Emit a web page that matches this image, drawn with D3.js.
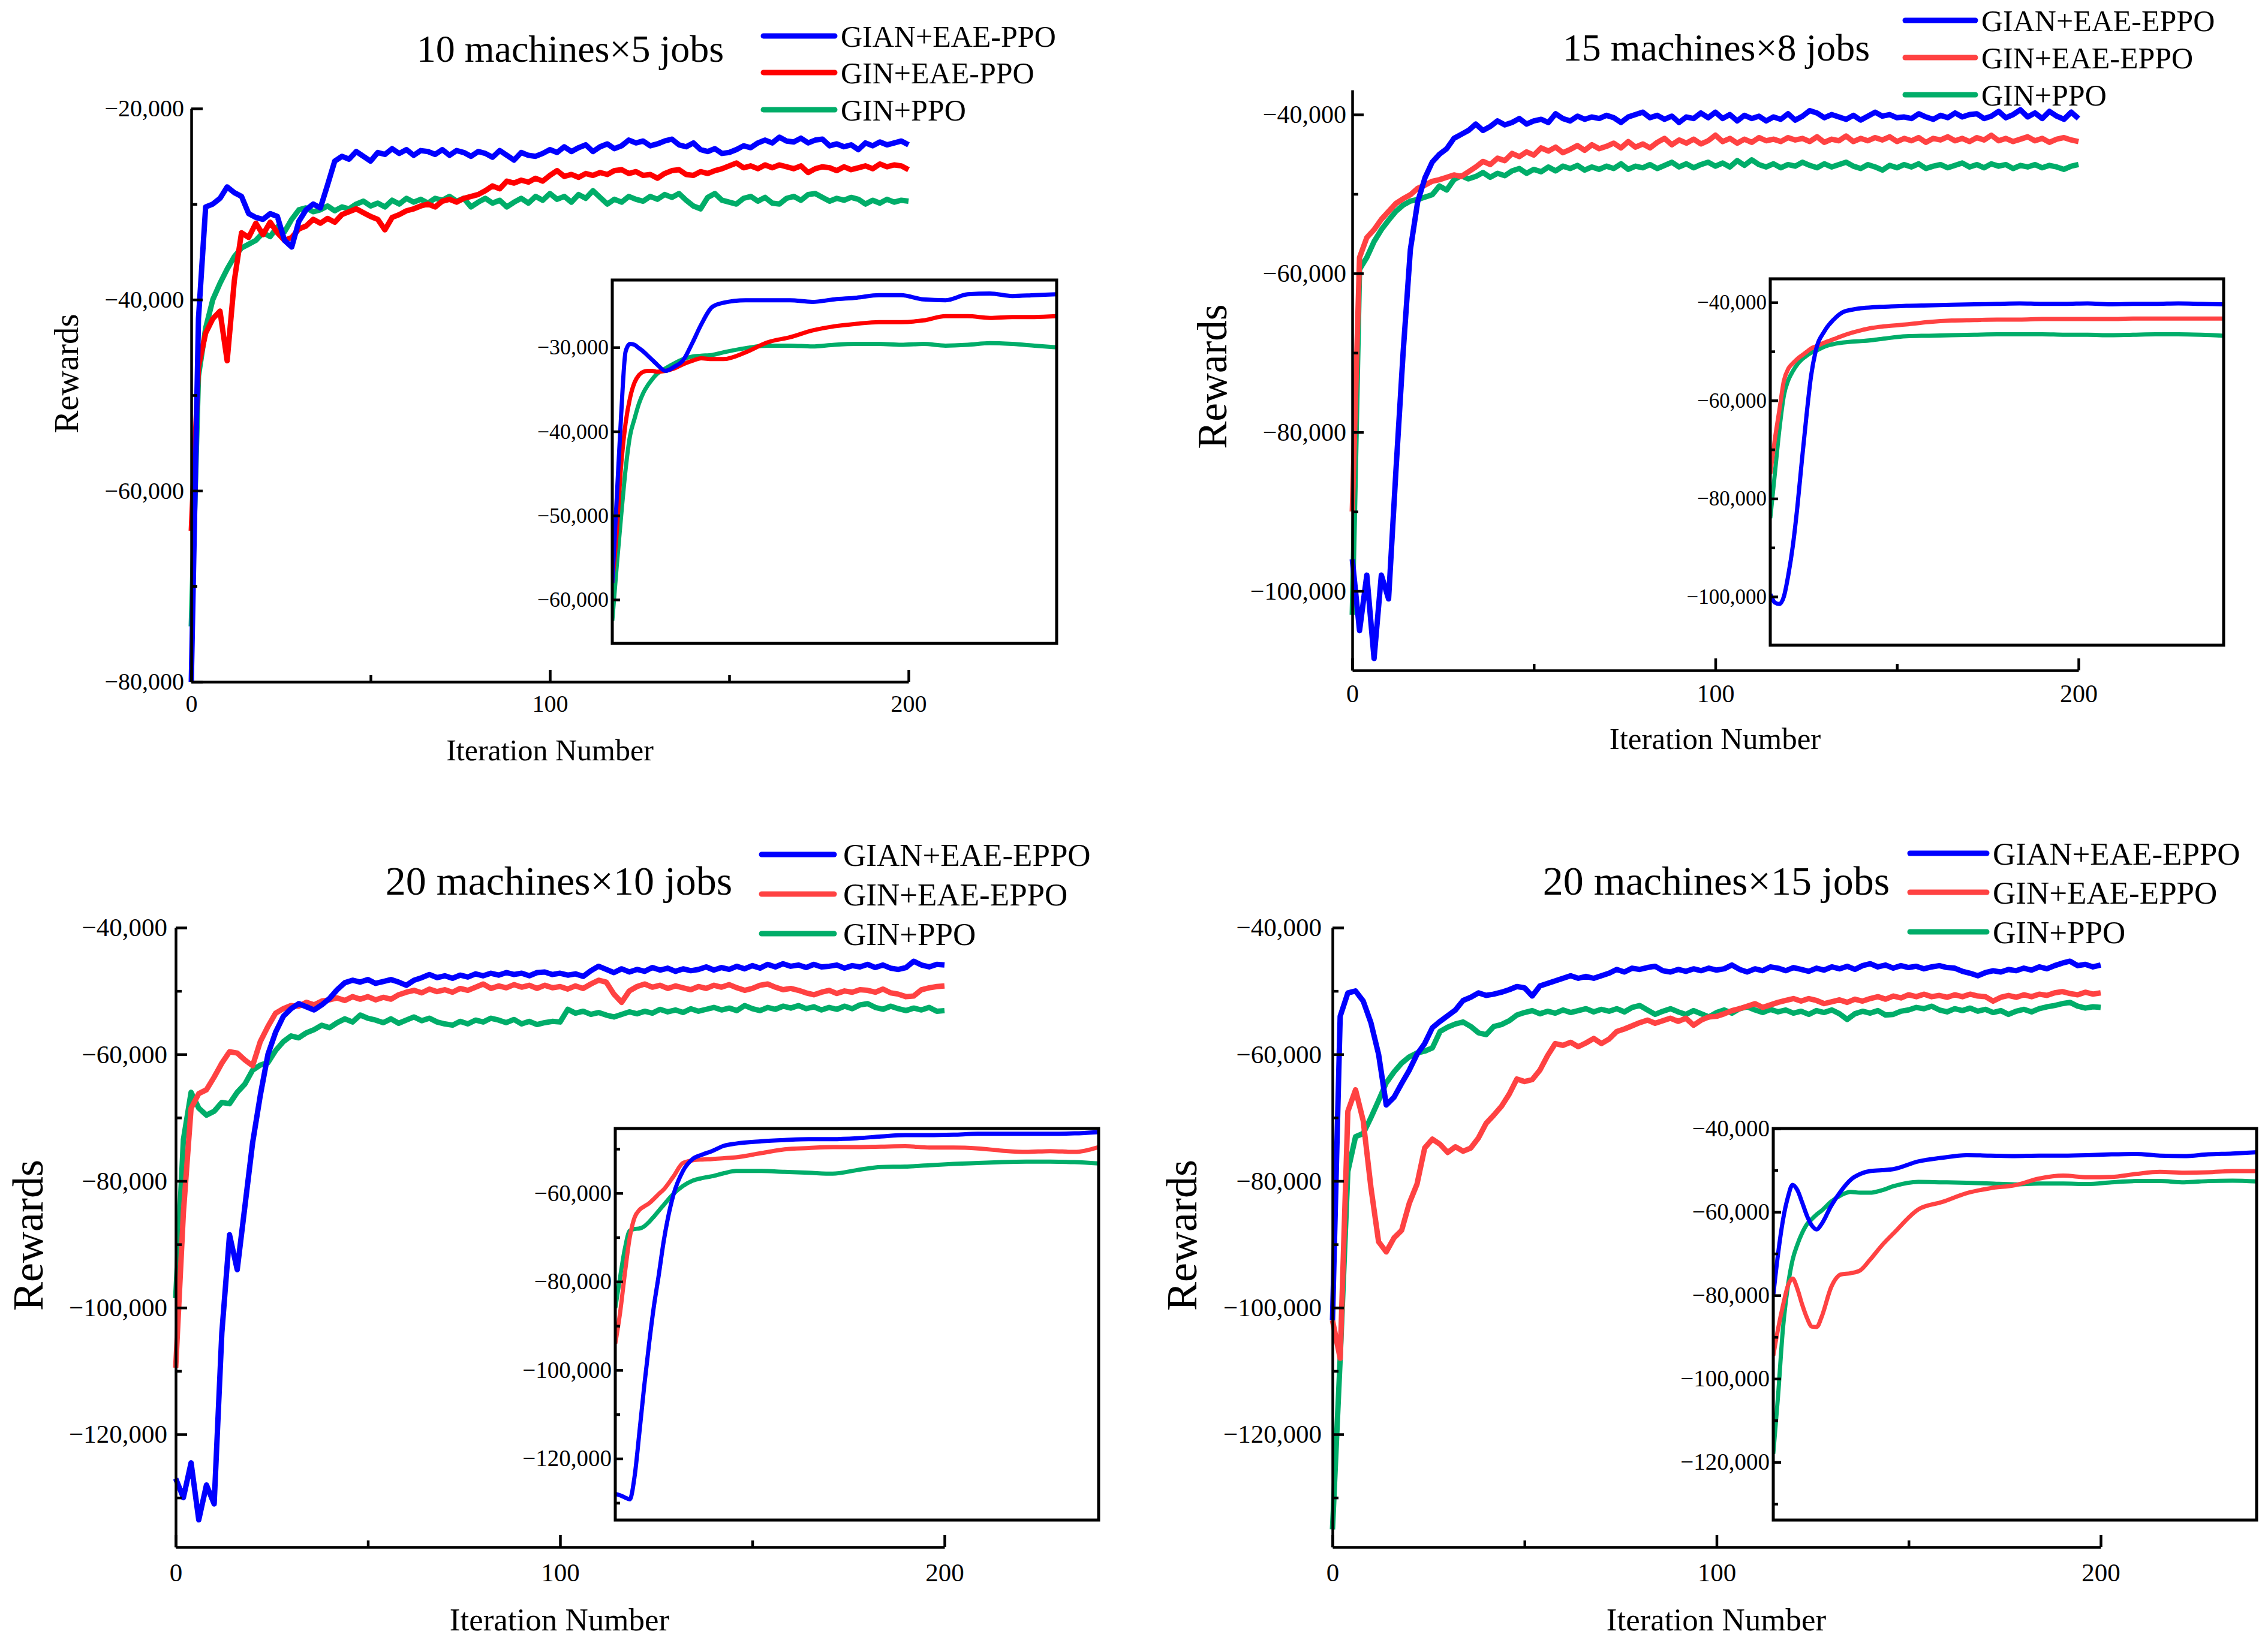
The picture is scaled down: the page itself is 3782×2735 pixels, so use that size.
<!DOCTYPE html>
<html>
<head>
<meta charset="utf-8">
<script src="https://cdn.jsdelivr.net/npm/d3@7"></script>
<style>
body { margin: 0; background: #fff; }
text { font-family: "Liberation Serif", "Times New Roman", serif; fill: #000; }
</style>
</head>
<body>
<script>
var width = 3782,
    height = 2735;

// ---- data (rewards in thousands) ----
var iters = d3.range(0, 201, 2);
var insetIters = [0, 2, 4, 6, 8, 10, 12, 14, 16, 18, 20, 24, 28, 32, 36, 40, 45, 50,
    60, 70, 80, 90, 100, 110, 120, 130, 140, 150, 160, 170, 180, 190, 200];

var titles = ["10 machines\u00d75 jobs", "15 machines\u00d78 jobs",
    "20 machines\u00d710 jobs", "20 machines\u00d715 jobs"];
var namesPPO = ["GIAN+EAE-PPO", "GIN+EAE-PPO", "GIN+PPO"];
var namesEPPO = ["GIAN+EAE-EPPO", "GIN+EAE-EPPO", "GIN+PPO"];

var xTicks = [0, 100, 200],
    xMinor = [50, 150];
var p1YTicks = [-80, -60, -40, -20], p1YMinor = [-70, -50, -30];
var p2YTicks = [-100, -80, -60, -40], p2YMinor = [-90, -70, -50];
var p34YTicks = [-120, -100, -80, -60, -40], p34YMinor = [-130, -110, -90, -70, -50];
var p1InTicks = [-60, -50, -40, -30];
var p2InTicks = [-100, -80, -60, -40], p2InMinor = [-90, -70, -50];
var p3InTicks = [-120, -100, -80, -60], p3InMinor = [-130, -110, -90, -70, -50];
var p4InTicks = [-120, -100, -80, -60, -40], p4InMinor = [-130, -110, -90, -70, -50];

var p1Blue = [-80,-42,-30.3,-30.0,-29.4,-28.2,-28.8,-29.2,-31.0,-31.4,
    -31.6,-31.0,-31.3,-33.8,-34.5,-31.8,-30.6,-30.0,-30.4,-28.0,
    -25.5,-25.0,-25.3,-24.5,-25.0,-25.5,-24.6,-24.8,-24.2,-24.7,
    -24.3,-24.9,-24.4,-24.5,-24.8,-24.3,-24.9,-24.4,-24.6,-25.0,
    -24.5,-24.7,-25.1,-24.4,-24.9,-25.4,-24.6,-24.9,-25.0,-24.7,
    -24.3,-24.6,-24.0,-24.5,-24.1,-23.8,-24.5,-24.0,-23.7,-24.2,
    -23.9,-23.3,-23.6,-23.4,-23.9,-23.7,-23.4,-23.2,-23.8,-24.0,
    -23.6,-24.3,-24.5,-24.2,-24.7,-24.6,-24.3,-23.9,-24.1,-23.6,
    -23.3,-23.6,-23.0,-23.4,-23.5,-23.1,-23.6,-23.3,-23.2,-23.9,
    -23.7,-24.0,-23.8,-24.3,-23.6,-23.9,-23.5,-23.8,-23.6,-23.4,
    -23.8];
var p1Red = [-64.2,-47.0,-43.5,-42.0,-41.2,-46.4,-38.0,-33.0,-33.5,-32.0,
    -33.2,-31.9,-33.0,-33.8,-33.5,-32.6,-32.3,-31.6,-32.0,-31.5,
    -31.9,-31.1,-30.8,-30.5,-30.9,-31.3,-31.6,-32.7,-31.4,-31.1,
    -30.7,-30.5,-30.2,-30.0,-30.3,-29.7,-29.5,-29.8,-29.4,-29.2,
    -29.0,-28.6,-28.1,-28.4,-27.6,-27.8,-27.5,-27.7,-27.3,-27.6,
    -27.0,-26.5,-27.1,-26.9,-27.2,-26.8,-27.0,-26.7,-26.9,-26.5,
    -26.4,-26.8,-26.6,-27.0,-26.9,-27.3,-26.8,-26.5,-26.4,-26.9,
    -27.0,-26.6,-26.8,-26.5,-26.3,-26.0,-25.7,-26.2,-26.0,-26.3,
    -25.9,-26.2,-25.9,-26.1,-26.3,-26.0,-26.7,-26.3,-26.1,-26.2,
    -26.5,-26.1,-26.4,-26.2,-26.0,-26.3,-25.8,-26.1,-25.9,-26.0,
    -26.4];
var p1Green = [-74.2,-48.0,-43.0,-40.0,-38.3,-36.8,-35.5,-34.6,-34.2,-33.8,
    -33.0,-33.4,-32.4,-32.9,-31.6,-30.6,-30.4,-30.8,-30.6,-30.2,
    -30.7,-30.3,-30.5,-30.0,-29.7,-30.2,-29.9,-30.3,-29.6,-30.0,
    -29.4,-29.8,-29.5,-29.9,-29.4,-29.6,-29.2,-29.7,-29.4,-30.3,
    -29.8,-29.4,-29.9,-29.6,-30.3,-29.8,-29.4,-29.9,-29.2,-29.6,
    -28.9,-29.5,-29.2,-29.8,-29.0,-29.4,-28.6,-29.3,-30.0,-29.5,
    -29.8,-29.2,-29.5,-29.7,-29.2,-29.5,-29.0,-29.3,-28.9,-29.6,
    -30.2,-30.5,-29.3,-28.9,-29.6,-29.8,-30.0,-29.4,-29.2,-29.7,
    -29.3,-29.9,-30.0,-29.4,-29.2,-29.6,-29.0,-28.9,-29.3,-29.7,
    -29.4,-29.6,-29.3,-29.5,-30.0,-29.6,-29.9,-29.5,-29.8,-29.6,
    -29.7];

var p2Blue = [-96,-105,-98,-108.5,-98,-101,-85,-70,-57,-51,
    -48,-46,-45,-44.3,-43,-42.5,-42,-41.2,-42,-41.5,
    -40.8,-41.3,-41.0,-40.5,-41.2,-40.8,-40.6,-41.0,-39.9,-40.5,
    -40.8,-40.2,-40.6,-40.3,-40.5,-40.1,-40.4,-41.0,-40.3,-40.0,
    -39.7,-40.4,-40.1,-40.6,-40.2,-41.0,-40.3,-40.5,-39.8,-40.4,
    -39.7,-40.5,-40.0,-40.8,-40.1,-40.5,-40.2,-40.8,-40.3,-40.6,
    -39.9,-40.7,-40.2,-39.5,-39.8,-40.4,-40.0,-40.3,-40.6,-40.1,
    -40.7,-40.2,-39.7,-40.2,-40.0,-40.4,-40.3,-40.5,-39.9,-40.3,
    -40.6,-40.1,-40.4,-39.8,-40.3,-40.0,-39.9,-40.5,-40.2,-39.6,
    -40.4,-40.0,-39.4,-40.3,-39.8,-40.5,-39.6,-40.2,-40.6,-39.7,
    -40.5];
var p2Red = [-90,-58,-55.5,-54.5,-53.2,-52.2,-51.2,-50.6,-50.1,-49.3,
    -48.9,-48.4,-48.2,-47.9,-47.6,-47.8,-47.2,-46.6,-45.9,-46.3,
    -45.5,-45.8,-44.9,-45.3,-44.7,-45.1,-44.2,-44.6,-44.1,-44.8,
    -44.4,-43.9,-44.5,-43.8,-44.3,-44.0,-43.6,-44.2,-43.4,-44.1,
    -43.7,-44.2,-43.5,-43.0,-43.8,-43.2,-43.6,-43.1,-43.7,-43.3,
    -42.6,-43.4,-43.0,-43.6,-43.1,-43.5,-42.9,-43.3,-43.1,-43.4,
    -42.9,-43.2,-43.0,-43.4,-42.8,-43.5,-43.1,-43.3,-42.7,-43.4,
    -43.0,-43.3,-42.9,-43.2,-42.8,-43.4,-43.0,-43.3,-42.9,-43.5,
    -43.0,-43.2,-42.8,-43.3,-43.0,-43.4,-42.9,-43.2,-42.6,-43.3,
    -43.0,-43.4,-43.1,-42.8,-43.3,-43.0,-43.5,-43.1,-42.9,-43.2,
    -43.4];
var p2Green = [-103,-59.5,-58.0,-56.0,-54.5,-53.3,-52.2,-51.4,-50.9,-50.7,
    -50.4,-50.1,-49.0,-49.5,-48.2,-47.7,-48.1,-47.8,-47.3,-47.9,
    -47.4,-47.7,-47.1,-46.8,-47.4,-46.9,-47.2,-46.6,-47.1,-46.5,
    -46.8,-46.4,-47.0,-46.6,-46.9,-46.5,-46.8,-46.2,-46.9,-46.5,
    -46.7,-46.3,-46.8,-46.4,-46.0,-46.6,-46.2,-46.7,-46.3,-46.0,
    -46.5,-46.1,-46.6,-45.8,-46.4,-45.7,-46.3,-46.6,-46.2,-46.7,
    -46.3,-46.5,-46.0,-46.4,-46.7,-46.2,-46.6,-46.3,-46.0,-46.5,
    -46.8,-46.3,-46.6,-47.0,-46.4,-46.7,-46.3,-46.6,-46.2,-46.8,
    -46.5,-46.3,-46.7,-46.4,-46.1,-46.6,-46.3,-46.7,-46.2,-46.5,
    -46.3,-46.8,-46.4,-46.6,-46.3,-46.7,-46.4,-46.6,-46.9,-46.5,
    -46.3];

var p3Blue = [-127,-130,-124.5,-133.5,-128,-131,-104,-88.5,-94,-84,
    -74,-66.5,-60,-56.5,-54.0,-52.8,-52.0,-52.5,-53.0,-52.2,
    -51.2,-49.8,-48.7,-48.3,-48.6,-48.2,-48.8,-48.5,-48.2,-48.6,
    -49.1,-48.3,-47.9,-47.4,-47.9,-47.6,-48.0,-47.5,-47.8,-47.3,
    -47.6,-47.2,-47.5,-47.1,-47.4,-47.2,-47.6,-47.1,-47.0,-47.4,
    -47.2,-47.5,-47.3,-47.7,-46.8,-46.1,-46.6,-47.1,-46.5,-47.0,
    -46.6,-46.9,-46.3,-46.7,-46.4,-46.9,-46.5,-46.8,-46.6,-46.2,
    -46.7,-46.3,-46.6,-46.1,-46.5,-46.0,-46.4,-45.8,-46.2,-45.7,
    -46.1,-45.9,-46.3,-45.8,-46.2,-46.1,-45.9,-46.4,-46.0,-46.2,
    -45.8,-46.3,-45.9,-46.4,-46.6,-46.3,-45.3,-45.9,-46.2,-45.8,
    -45.9];
var p3Red = [-109.5,-85,-68.5,-66.2,-65.6,-63.6,-61.4,-59.6,-59.8,-60.9,
    -61.8,-58.0,-55.6,-53.5,-52.8,-52.3,-52.4,-51.8,-52.2,-51.6,
    -51.4,-51.1,-51.5,-50.9,-51.3,-50.9,-51.4,-51.0,-51.3,-50.6,
    -50.2,-49.9,-50.3,-49.7,-50.1,-49.8,-50.2,-49.6,-49.9,-49.4,
    -48.9,-49.6,-49.2,-49.5,-49.0,-49.4,-49.1,-49.6,-49.1,-49.5,
    -49.3,-49.7,-49.2,-49.6,-48.9,-48.3,-48.6,-50.5,-51.8,-50.0,
    -49.3,-48.9,-49.4,-49.1,-49.6,-49.2,-49.5,-49.8,-49.3,-49.6,
    -49.1,-49.4,-49.0,-49.5,-49.9,-49.6,-49.1,-48.9,-49.4,-49.8,
    -49.6,-49.9,-50.3,-50.6,-50.2,-49.9,-50.4,-50.0,-50.2,-49.8,
    -49.9,-50.2,-49.7,-50.3,-50.5,-50.9,-50.8,-49.8,-49.5,-49.3,
    -49.2];
var p3Green = [-98.5,-73.5,-66,-68.5,-69.6,-69.0,-67.6,-67.8,-66.0,-64.7,
    -62.5,-61.7,-61.3,-59.4,-58.0,-57.1,-57.4,-56.6,-56.1,-55.4,
    -55.8,-55.0,-54.4,-54.9,-53.8,-54.3,-54.6,-55.0,-54.4,-55.1,
    -54.6,-54.1,-54.7,-54.3,-54.9,-55.2,-55.4,-54.8,-55.2,-54.6,
    -54.9,-54.3,-54.6,-55.0,-54.5,-55.2,-54.8,-55.3,-55.0,-54.8,
    -54.9,-52.9,-53.5,-53.2,-53.7,-53.4,-53.8,-54.1,-53.7,-53.3,
    -53.6,-53.2,-53.5,-52.9,-53.3,-53.0,-53.4,-52.8,-53.2,-52.9,
    -52.6,-53.0,-52.7,-53.1,-52.3,-52.8,-53.1,-52.6,-52.9,-52.4,
    -52.7,-52.3,-52.8,-52.5,-53.0,-52.6,-52.9,-52.4,-52.8,-52.2,
    -52.0,-52.6,-52.9,-52.4,-52.8,-53.1,-52.7,-53.0,-52.6,-53.2,
    -53.1];

var p4Blue = [-102,-54,-50.3,-50.0,-51.6,-55.0,-60.0,-68.0,-66.8,-64.6,
    -62.5,-60.0,-58.3,-55.8,-54.8,-53.9,-53.0,-51.5,-51.0,-50.3,
    -50.7,-50.5,-50.2,-49.8,-49.3,-49.5,-50.8,-49.2,-48.8,-48.4,
    -48.0,-47.6,-48.0,-47.7,-48.0,-47.6,-47.2,-46.6,-47.0,-46.4,
    -46.6,-46.3,-46.1,-46.8,-47.0,-46.6,-46.9,-46.5,-46.8,-46.4,
    -46.7,-46.5,-45.9,-46.6,-47.0,-46.5,-46.8,-46.2,-46.4,-46.8,
    -46.3,-46.6,-46.9,-46.4,-46.7,-46.2,-46.5,-46.1,-46.6,-46.0,
    -45.7,-46.2,-45.9,-46.4,-46.0,-46.3,-46.1,-46.5,-46.2,-46.0,
    -46.3,-46.4,-46.9,-47.2,-47.6,-47.1,-46.8,-47.0,-46.6,-46.8,
    -46.4,-46.7,-46.2,-46.5,-46.0,-45.6,-45.3,-46.0,-45.8,-46.2,
    -45.9];
var p4Red = [-102,-108,-69,-65.6,-70.5,-81,-89.6,-91.2,-89.0,-87.8,
    -83.5,-80.5,-74.8,-73.4,-74.2,-75.5,-74.6,-75.3,-74.8,-73.2,
    -70.9,-69.6,-68.2,-66.3,-63.9,-64.3,-64.0,-62.5,-60.2,-58.3,
    -58.6,-58.1,-58.8,-58.2,-57.5,-58.3,-57.6,-56.4,-56.0,-55.5,
    -55.0,-54.6,-55.1,-54.7,-54.3,-54.8,-54.3,-55.4,-54.6,-54.1,
    -54.0,-53.6,-53.1,-52.8,-52.4,-52.0,-52.6,-52.2,-51.8,-51.5,
    -51.2,-51.6,-51.2,-51.5,-52.0,-51.7,-51.4,-51.8,-51.3,-51.6,
    -51.2,-50.9,-51.3,-50.8,-51.1,-50.6,-50.9,-50.5,-50.9,-50.7,
    -51.0,-50.6,-50.9,-50.5,-50.8,-50.9,-51.6,-51.0,-50.7,-51.0,
    -50.6,-50.9,-50.5,-50.7,-50.3,-50.1,-50.4,-50.6,-50.2,-50.5,
    -50.3];
var p4Green = [-135,-108,-78.5,-73.0,-72.5,-70.0,-67.3,-64.5,-62.8,-61.4,
    -60.4,-59.8,-59.5,-59.0,-56.4,-55.7,-55.2,-54.9,-55.6,-56.6,
    -56.9,-55.6,-55.3,-54.7,-53.8,-53.4,-53.1,-53.6,-53.2,-53.5,
    -53.0,-53.4,-53.1,-52.8,-53.3,-52.9,-53.2,-52.8,-53.3,-52.6,
    -52.3,-53.0,-53.7,-53.2,-52.8,-53.3,-53.7,-53.1,-53.6,-54.1,
    -53.4,-53.0,-53.5,-52.8,-52.5,-53.0,-53.4,-52.9,-53.3,-53.0,
    -53.5,-53.2,-53.7,-53.1,-53.4,-53.0,-53.6,-54.5,-53.6,-53.2,
    -53.5,-53.1,-53.8,-53.7,-53.2,-53.0,-52.6,-52.8,-52.4,-53.0,
    -53.3,-52.8,-53.1,-52.7,-53.2,-52.9,-53.4,-53.1,-53.7,-53.2,
    -52.9,-53.3,-52.8,-52.5,-52.3,-52.0,-51.8,-52.4,-52.7,-52.5,
    -52.6];

// insets: smoothed curves, sampled at insetIters
var p1InBlue = [-58,-48,-38,-30.5,-29.6,-29.7,-30.1,-30.5,-31.0,-31.5,-32.0,-32.8,-32.3,-31.5,-29.5,-27.3,-25.2,-24.7,
    -24.4,-24.4,-24.4,-24.6,-24.3,-24.1,-23.8,-23.8,-24.3,-24.4,-23.7,-23.6,-23.9,-23.8,-23.7];
var p1InRed = [-58,-52,-44,-39,-36,-34.2,-33.3,-32.9,-32.8,-32.8,-32.9,-32.8,-32.5,-32.0,-31.6,-31.3,-31.4,-31.4,
    -30.6,-29.4,-28.8,-28.0,-27.5,-27.2,-27.0,-27.0,-26.8,-26.3,-26.3,-26.5,-26.4,-26.4,-26.3];
var p1InGreen = [-62.5,-56,-50,-44.5,-40.5,-38.5,-36.7,-35.4,-34.5,-33.8,-33.2,-32.5,-31.9,-31.4,-31.1,-31.0,-30.9,-30.6,
    -30.1,-29.8,-29.8,-29.9,-29.7,-29.6,-29.6,-29.7,-29.6,-29.8,-29.7,-29.5,-29.6,-29.8,-30.0];

var p2InBlue = [-99.5,-101.2,-101.5,-100,-95.5,-89.5,-81.5,-72,-63,-55,-50,-45.8,-43.5,-42.0,-41.5,-41.2,-41.0,-40.9,
    -40.7,-40.6,-40.5,-40.4,-40.3,-40.2,-40.3,-40.3,-40.2,-40.4,-40.3,-40.3,-40.2,-40.3,-40.4];
var p2InRed = [-75,-68,-62,-56,-53.5,-52.4,-51.5,-50.8,-50.1,-49.4,-49.0,-48.2,-47.5,-46.8,-46.2,-45.7,-45.2,-44.9,
    -44.5,-44.0,-43.7,-43.6,-43.5,-43.5,-43.4,-43.4,-43.4,-43.4,-43.3,-43.3,-43.3,-43.3,-43.3];
var p2InGreen = [-84,-75,-66,-59,-55.8,-54.0,-52.6,-51.6,-50.9,-50.3,-49.9,-49.0,-48.5,-48.2,-48.0,-47.9,-47.7,-47.4,
    -46.9,-46.8,-46.7,-46.6,-46.5,-46.5,-46.5,-46.6,-46.6,-46.7,-46.6,-46.5,-46.5,-46.6,-46.8];

var p3InBlue = [-128,-128.3,-128.8,-129.2,-124,-114,-103.5,-94,-85.5,-78.5,-71,-60.5,-55,-52.3,-51.3,-50.5,-49.3,-48.8,
    -48.3,-48.0,-47.8,-47.8,-47.6,-47.2,-46.9,-46.9,-46.8,-46.6,-46.6,-46.6,-46.6,-46.5,-46.2];
var p3InRed = [-94,-87,-78,-70,-65.5,-63.8,-63.0,-62.3,-61.3,-60.2,-59.2,-56.3,-53.2,-52.6,-52.4,-52.3,-52.1,-51.9,
    -51.0,-50.1,-49.8,-49.6,-49.6,-49.5,-49.4,-49.7,-49.7,-49.9,-50.4,-50.7,-50.5,-50.7,-49.6];
var p3InGreen = [-86,-79,-72.5,-68.5,-68.1,-68.0,-67.5,-66.5,-65.3,-64.0,-62.7,-60.2,-58.4,-57.2,-56.6,-56.2,-55.5,-55.0,
    -55.0,-55.2,-55.4,-55.6,-54.8,-54.1,-54.0,-53.7,-53.4,-53.2,-53.0,-52.9,-52.9,-53.0,-53.3];

var p4InBlue = [-80,-70,-62,-56.6,-53.5,-54.8,-57.8,-61.0,-63.3,-64.2,-62.9,-58.5,-55.0,-52.3,-50.9,-50.2,-50.0,-49.7,
    -47.9,-47.0,-46.4,-46.5,-46.6,-46.5,-46.5,-46.4,-46.2,-46.1,-46.5,-46.6,-46.2,-46.0,-45.7];
var p4InRed = [-94.5,-88,-82.5,-77.8,-76.0,-78.5,-82.3,-85.5,-87.5,-87.6,-85.2,-78.0,-75.0,-74.7,-74.0,-71.5,-68.0,-65.0,
    -59.4,-57.6,-55.5,-54.3,-53.6,-52.0,-51.3,-51.7,-51.6,-50.9,-50.4,-50.6,-50.5,-50.2,-50.2];
var p4InGreen = [-118,-104,-88,-78,-71.5,-67.8,-65.0,-62.9,-61.7,-60.6,-59.7,-57.5,-56.0,-55.2,-55.4,-55.4,-54.8,-53.8,
    -52.8,-52.9,-53.0,-53.2,-53.4,-53.2,-53.2,-53.3,-52.9,-52.6,-52.6,-52.9,-52.6,-52.5,-52.7];

// ---- layout ----
var blue = "#0000ff", green = "#00ad69";

var panels = [
  { title: titles[0], names: namesPPO, colors: [blue, "#ff0000", green],
    main: [p1Blue, p1Red, p1Green], inset: [p1InBlue, p1InRed, p1InGreen],
    x0: 319, x1: 1515, yTop: 181, yBot: 1137, yDomain: [-80, -20],
    yTicks: p1YTicks, yMinor: p1YMinor, tickFont: 40, yPad: 12, xPad: 22,
    titlePos: [951, 103, 64], legend: { x1: 1273, x2: 1392, ys: [60, 121, 183], tx: 1402, font: 50 },
    yLabel: [110, 623, 57], xLabel: [917, 1268, 50],
    box: { x0: 1021, y0: 467, x1: 1762, y1: 1073, domain: [-65.2, -22.0], ticks: p1InTicks, minor: [], font: 36 } },
  { title: titles[1], names: namesEPPO, colors: [blue, "#ff4242", green],
    main: [p2Blue, p2Red, p2Green], inset: [p2InBlue, p2InRed, p2InGreen],
    x0: 2255, x1: 3466, yTop: 150, yBot: 1118, yDomain: [-110, -36.9],
    yTicks: p2YTicks, yMinor: p2YMinor, tickFont: 42, yPad: 10, xPad: 23,
    titlePos: [2862, 101, 64], legend: { x1: 3177, x2: 3294, ys: [34, 96, 158], tx: 3304, font: 50 },
    yLabel: [2021, 628, 69], xLabel: [2860, 1249, 51],
    box: { x0: 2952, y0: 465, x1: 3708, y1: 1076, domain: [-109.9, -35.2], ticks: p2InTicks, minor: p2InMinor, font: 35 } },
  { title: titles[2], names: namesEPPO, colors: [blue, "#ff4242", green],
    main: [p3Blue, p3Red, p3Green], inset: [p3InBlue, p3InRed, p3InGreen],
    x0: 293, x1: 1575, yTop: 1547, yBot: 2580, yDomain: [-137.8, -40],
    yTicks: p34YTicks, yMinor: p34YMinor, tickFont: 43, yPad: 14, xPad: 26,
    titlePos: [932, 1492, 68], legend: { x1: 1270, x2: 1391, ys: [1425, 1491, 1557], tx: 1406, font: 53 },
    yLabel: [46, 2060, 72], xLabel: [933, 2719, 53],
    box: { x0: 1026, y0: 1882, x1: 1832, y1: 2535, domain: [-133.9, -45.4], ticks: p3InTicks, minor: p3InMinor, font: 39 } },
  { title: titles[3], names: namesEPPO, colors: [blue, "#ff4242", green],
    main: [p4Blue, p4Red, p4Green], inset: [p4InBlue, p4InRed, p4InGreen],
    x0: 2222, x1: 3503, yTop: 1547, yBot: 2580, yDomain: [-137.8, -40],
    yTicks: p34YTicks, yMinor: p34YMinor, tickFont: 43, yPad: 18, xPad: 26,
    titlePos: [2862, 1492, 68], legend: { x1: 3185, x2: 3313, ys: [1423, 1488, 1554], tx: 3323, font: 53 },
    yLabel: [1970, 2060, 72], xLabel: [2862, 2719, 53],
    box: { x0: 2957, y0: 1882, x1: 3763, y1: 2535, domain: [-133.9, -40], ticks: p4InTicks, minor: p4InMinor, font: 39 } }
];

var svg = d3.select("body").append("svg")
    .attr("width", width)
    .attr("height", height)
    .style("background", "#fff");

var fmt = function(d) { return d3.format(",")(Math.round(d * 1000)); };

function styleAxis(sel, font) {
  sel.attr("font-family", "'Liberation Serif', 'Times New Roman', serif")
      .attr("font-size", font);
  sel.selectAll("path, line").attr("stroke", "#000").attr("stroke-width", 4.5);
  sel.selectAll("text").attr("fill", "#000");
}

panels.forEach(function(p, pi) {
  var x = d3.scaleLinear().domain([0, 200]).range([p.x0, p.x1]),
      y = d3.scaleLinear().domain(p.yDomain).range([p.yBot, p.yTop]);
  var g = svg.append("g");

  // main curves, green first so blue ends on top
  var line = d3.line()
      .x(function(d, i) { return x(iters[i]); })
      .y(function(d) { return y(d); });
  [2, 1, 0].forEach(function(k) {
    g.append("path")
        .datum(p.main[k])
        .attr("d", line)
        .attr("fill", "none")
        .attr("stroke", p.colors[k])
        .attr("stroke-width", 9)
        .attr("stroke-linejoin", "round");
  });

  // axes, ticks pointing inward
  g.append("g")
      .attr("transform", "translate(" + p.x0 + ",0)")
      .call(d3.axisLeft(y).tickValues(p.yTicks).tickFormat(fmt)
          .tickSize(-19).tickSizeOuter(0).tickPadding(p.yPad))
      .call(styleAxis, p.tickFont);
  g.append("g")
      .attr("transform", "translate(" + p.x0 + ",0)")
      .call(d3.axisLeft(y).tickValues(p.yMinor).tickFormat("").tickSize(-10).tickSizeOuter(0))
      .call(styleAxis, p.tickFont)
      .select(".domain").remove();
  g.append("g")
      .attr("transform", "translate(0," + p.yBot + ")")
      .call(d3.axisBottom(x).tickValues(xTicks).tickFormat(d3.format("d"))
          .tickSize(-20).tickSizeOuter(0).tickPadding(p.xPad))
      .call(styleAxis, p.tickFont);
  g.append("g")
      .attr("transform", "translate(0," + p.yBot + ")")
      .call(d3.axisBottom(x).tickValues(xMinor).tickFormat("").tickSize(-11).tickSizeOuter(0))
      .call(styleAxis, p.tickFont)
      .select(".domain").remove();

  // titles and labels
  g.append("text")
      .attr("x", p.titlePos[0]).attr("y", p.titlePos[1])
      .attr("text-anchor", "middle")
      .attr("font-size", p.titlePos[2])
      .text(p.title);
  g.append("text")
      .attr("transform", "translate(" + p.yLabel[0] + "," + p.yLabel[1] + ")rotate(-90)")
      .attr("text-anchor", "middle")
      .attr("dy", "0.35em")
      .attr("font-size", p.yLabel[2])
      .text("Rewards");
  g.append("text")
      .attr("x", p.xLabel[0]).attr("y", p.xLabel[1])
      .attr("text-anchor", "middle")
      .attr("font-size", p.xLabel[2])
      .text("Iteration Number");

  // legend
  var lg = g.selectAll(".legend")
      .data(p.names)
    .enter().append("g");
  lg.append("line")
      .attr("x1", p.legend.x1).attr("x2", p.legend.x2)
      .attr("y1", function(d, i) { return p.legend.ys[i]; })
      .attr("y2", function(d, i) { return p.legend.ys[i]; })
      .attr("stroke", function(d, i) { return p.colors[i]; })
      .attr("stroke-width", 9)
      .attr("stroke-linecap", "round");
  lg.append("text")
      .attr("x", p.legend.tx)
      .attr("y", function(d, i) { return p.legend.ys[i]; })
      .attr("dy", "0.35em")
      .attr("font-size", p.legend.font)
      .text(function(d) { return d; });

  // inset
  var b = p.box;
  var ix = d3.scaleLinear().domain([0, 200]).range([b.x0, b.x1]),
      iy = d3.scaleLinear().domain(b.domain).range([b.y1, b.y0]);
  var clipId = "inset-clip-" + pi;
  svg.append("clipPath").attr("id", clipId)
    .append("rect")
      .attr("x", b.x0).attr("y", b.y0)
      .attr("width", b.x1 - b.x0).attr("height", b.y1 - b.y0);
  g.append("rect")
      .attr("x", b.x0).attr("y", b.y0)
      .attr("width", b.x1 - b.x0).attr("height", b.y1 - b.y0)
      .attr("fill", "#fff");
  var iline = d3.line()
      .curve(d3.curveMonotoneX)
      .x(function(d, i) { return ix(insetIters[i]); })
      .y(function(d) { return iy(d); });
  [2, 1, 0].forEach(function(k) {
    g.append("path")
        .datum(p.inset[k])
        .attr("d", iline)
        .attr("clip-path", "url(#" + clipId + ")")
        .attr("fill", "none")
        .attr("stroke", p.colors[k])
        .attr("stroke-width", 7)
        .attr("stroke-linejoin", "round");
  });
  g.append("g")
      .attr("transform", "translate(" + b.x0 + ",0)")
      .call(d3.axisLeft(iy).tickValues(b.ticks).tickFormat(fmt)
          .tickSize(-13).tickSizeOuter(0).tickPadding(6))
      .call(styleAxis, b.font)
      .select(".domain").remove();
  if (b.minor.length) {
    g.append("g")
        .attr("transform", "translate(" + b.x0 + ",0)")
        .call(d3.axisLeft(iy).tickValues(b.minor).tickFormat("").tickSize(-8).tickSizeOuter(0))
        .call(styleAxis, b.font)
        .select(".domain").remove();
  }
  g.append("rect")
      .attr("x", b.x0).attr("y", b.y0)
      .attr("width", b.x1 - b.x0).attr("height", b.y1 - b.y0)
      .attr("fill", "none")
      .attr("stroke", "#000")
      .attr("stroke-width", 5);
});
</script>
</body>
</html>
